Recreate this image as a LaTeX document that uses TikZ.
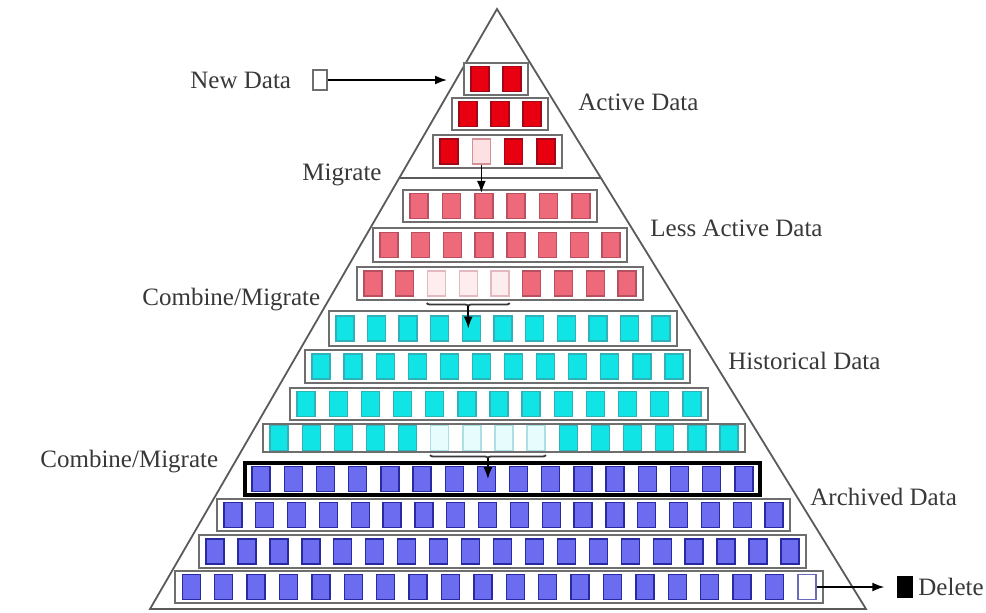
\documentclass[tikz,border=0pt]{standalone}
\usepackage{fontspec}
\setmainfont{Liberation Serif}
\usetikzlibrary{calc,arrows.meta,decorations.pathreplacing}
\definecolor{linegray}{HTML}{5A5A5A}
\definecolor{bargray}{HTML}{6E6E6E}
\definecolor{txtgray}{HTML}{383838}
\definecolor{actfill}{HTML}{E80010}
\definecolor{actline}{HTML}{A00818}
\definecolor{lessfill}{HTML}{EE6A7A}
\definecolor{lessline}{HTML}{B85060}
\definecolor{histfill}{HTML}{10E4E4}
\definecolor{histline}{HTML}{30B0B8}
\definecolor{archfill}{HTML}{6C6CF0}
\definecolor{archline}{HTML}{2A2AA0}

\begin{document}
\begin{tikzpicture}[x=0.5pt,y=-0.5pt]
\tikzstyle{bar}=[draw=bargray,line width=1pt,fill=white,inner sep=0pt]
\tikzstyle{barblk}=[draw=black,line width=1.7pt,fill=white,inner sep=0pt]
\tikzstyle{sq}=[inner sep=0pt,minimum width=9pt,minimum height=12.5pt,line width=0.7pt]
\tikzstyle{act}=[fill=actfill,draw=actline]
\tikzstyle{actpale}=[fill=actfill!12,draw=actline!45]
\tikzstyle{less}=[fill=lessfill,draw=lessline]
\tikzstyle{lesspale}=[fill=lessfill!12,draw=lessline!40]
\tikzstyle{hist}=[fill=histfill,draw=histline]
\tikzstyle{histpale}=[fill=histfill!10,draw=histline!40]
\tikzstyle{arch}=[fill=archfill,draw=archline]
\tikzstyle{archpale}=[fill=white,draw=archline!70]
\tikzstyle{edge}=[draw=linegray,line width=0.9pt]
\tikzstyle{lbl}=[anchor=base west,inner sep=0pt,text=txtgray,font=\fontsize{12.5}{15}\selectfont]
\tikzstyle{link}=[-{Latex[length=6pt,width=4.5pt]},line width=0.8pt,draw=black]
\tikzstyle{brc}=[decorate,decoration={brace,amplitude=1.5pt},line width=0.9pt,draw=txtgray]

\useasboundingbox (0,0) rectangle (986,612);

% pyramid outline
\coordinate (apex) at (497,9);
\coordinate (bl) at (150,609);
\coordinate (br) at (866,609);
\draw[edge] (apex) -- (bl) -- (br) -- cycle;
\draw[edge] ($(apex)!0.2817!(bl)$) -- ($(apex)!0.2817!(br)$);

% rows: name/left/right/top/bottom/cells/tier/pale from/pale to/frame
\foreach \nm/\l/\r/\t/\b/\n/\tier/\lo/\hi/\frm in {
  A/464/528/63/95/2/act/0/0/bar,
  B/452/548/98/130/3/act/0/0/bar,
  C/433/562/135/168/4/act/2/2/bar,
  D/403/597/190/222/6/less/0/0/bar,
  E/373/627/228/262/8/less/0/0/bar,
  F/357/643/267/300/9/less/3/5/bar,
  G/329/677/311/346/11/hist/0/0/bar,
  H/305/690/350/383/12/hist/0/0/bar,
  I/290/708/388/420/13/hist/0/0/bar,
  J/263/745/424/452/15/hist/6/9/bar,
  K/245/760/463/495/16/arch/0/0/barblk,
  L/217/790/499/531/18/arch/0/0/bar,
  M/199/806/535/568/19/arch/0/0/bar,
  N/175/823/571/603/20/arch/20/20/bar}{
  \node[\frm,minimum width={(\r-\l)*0.5pt},minimum height={(\b-\t)*0.5pt}] (bar\nm) at ({(\l+\r)/2},{(\t+\b)/2}) {};
  \foreach \i in {1,...,\n}{
    \pgfmathtruncatemacro\pale{and(\i>\lo-1,\i<\hi+1)}
    \ifnum\pale=1 \edef\sty{\tier pale}\else\edef\sty{\tier}\fi
    \node[sq,\sty] (\nm\i) at ({\l+(\i-0.5)*(\r-\l)/\n},{(\t+\b)/2}) {};
  }
}

% labels
\node[lbl] (newlbl) at (190,88) {New Data};
\node[lbl] (actlbl) at (578,110) {Active Data};
\node[lbl] (miglbl) at (302,180) {Migrate};
\node[lbl] (lesslbl) at (650,236) {Less Active Data};
\node[lbl] (comblbl) at (142,305) {Combine/Migrate};
\node[lbl] (histlbl) at (728,369) {Historical Data};
\node[lbl] (comblbl2) at (40,467) {Combine/Migrate};
\node[lbl] (archlbl) at (810,505) {Archived Data};
\node[lbl] (dellbl) at (918,595) {Delete};

\node[sq,draw=bargray,fill=white,minimum width=7pt,minimum height=10pt] (newsq) at (320,80) {};
\node[sq,draw=black,fill=black,minimum width=7pt,minimum height=10pt] (delsq) at (905,587) {};

% movement between rows
\draw[link,shorten >=8pt] (newsq) -- (newsq -| barA.west);
\draw[link] (C2.south) -- (C2.south |- D3.north);

\draw[brc] ($(F5.east |- barF.south)+(0,2)$) -- ($(F3.west |- barF.south)+(0,2)$);
\coordinate (upbrc) at ($(F3.west |- barF.south)!0.5!(F5.east |- barF.south)+(0,5)$);
\draw[link] (upbrc) -- (upbrc |- G5.center);

\draw[brc] ($(J9.east |- barJ.south)+(0,2)$) -- ($(J6.west |- barJ.south)+(0,2)$);
\coordinate (lowbrc) at ($(J6.west |- barJ.south)!0.5!(J9.east |- barJ.south)+(0,5)$);
\draw[link] (lowbrc) -- (lowbrc |- K8.center);

\draw[link,shorten >=6.5pt] (N20) -- (delsq);
\end{tikzpicture}
\end{document}
